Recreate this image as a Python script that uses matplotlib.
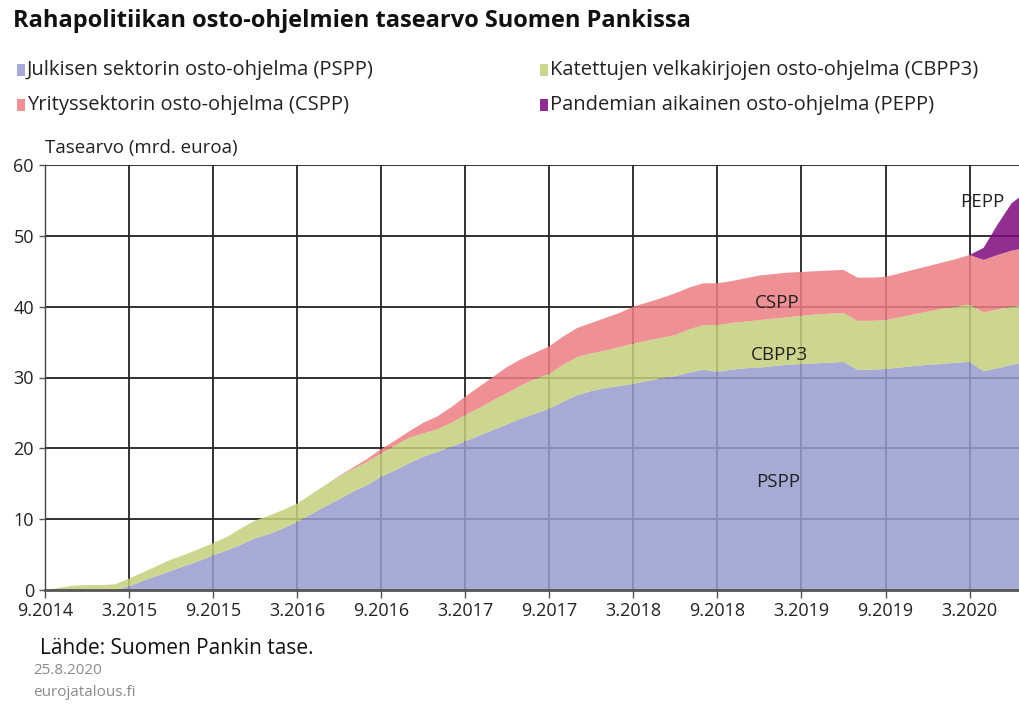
import matplotlib
matplotlib.use("Agg")
import matplotlib.pyplot as plt
from matplotlib.patches import Rectangle
import numpy as np

plt.rcParams['font.family'] = ['Open Sans', 'DejaVu Sans']

# ---- data (mrd. euroa), monthly from 9.2014 ----
pspp = [0, 0, 0, 0, 0, 0, 0.5, 1.3, 2.0, 2.7, 3.4, 4.1, 4.9, 5.6, 6.4, 7.3, 7.9, 8.7,
        9.6, 10.7, 11.8, 12.8, 13.9, 14.8, 16.0, 16.9, 17.9, 18.8, 19.5, 20.2, 21.0,
        21.8, 22.6, 23.4, 24.2, 24.9, 25.6, 26.6, 27.5, 28.1, 28.5, 28.8, 29.1, 29.5,
        29.9, 30.2, 30.7, 31.1, 30.8, 31.1, 31.3, 31.4, 31.6, 31.8, 31.9, 32.0, 32.1,
        32.2, 31.1, 31.1, 31.2, 31.4, 31.6, 31.8, 31.9, 32.1, 32.2, 30.9, 31.3, 31.8, 32.1]
green_top = [0, 0.3, 0.6, 0.7, 0.7, 0.8, 1.6, 2.5, 3.4, 4.3, 5.0, 5.8, 6.6, 7.5, 8.7, 9.8,
             10.5, 11.3, 12.2, 13.5, 14.8, 16.0, 17.1, 18.1, 19.3, 20.4, 21.5, 22.1, 22.7,
             23.6, 24.7, 25.7, 26.8, 27.8, 28.9, 29.8, 30.5, 31.8, 32.9, 33.4, 33.8, 34.3,
             34.8, 35.2, 35.6, 36.0, 36.8, 37.4, 37.4, 37.7, 37.9, 38.1, 38.3, 38.5, 38.7,
             38.9, 39.0, 39.1, 38.0, 38.0, 38.1, 38.5, 38.9, 39.3, 39.7, 40.0, 40.3, 39.2,
             39.6, 40.0, 40.2]
pink_top = green_top[:21] + [16.1, 17.3, 18.5, 19.9, 21.1, 22.4, 23.6, 24.5, 25.8, 27.3,
                             28.7, 30.1, 31.5, 32.6, 33.5, 34.4, 35.8, 37.0, 37.7, 38.4,
                             39.1, 40.0, 40.6, 41.2, 41.9, 42.7, 43.3, 43.3, 43.6, 44.0,
                             44.4, 44.6, 44.8, 44.9, 45.0, 45.1, 45.2, 44.1, 44.1, 44.2,
                             44.7, 45.2, 45.7, 46.2, 46.7, 47.3, 46.6, 47.3, 47.9, 48.3]
pepp = [0] * 66 + [0, 1.7, 4.3, 6.7, 7.8]

cbpp3 = list(np.array(green_top) - np.array(pspp))
cspp = list(np.array(pink_top) - np.array(green_top))

tick_labels = ["9.2014", "3.2015", "9.2015", "3.2016", "9.2016", "3.2017", "9.2017",
               "3.2018", "9.2018", "3.2019", "9.2019", "3.2020"]
series_names = ["Julkisen sektorin osto-ohjelma (PSPP)",
                "Katettujen velkakirjojen osto-ohjelma (CBPP3)",
                "Yrityssektorin osto-ohjelma (CSPP)",
                "Pandemian aikainen osto-ohjelma (PEPP)"]
short_names = ["PSPP", "CBPP3", "CSPP", "PEPP"]

c_pspp = "#989CCE"
c_cbpp3 = "#C4D07B"
c_cspp = "#EC7E83"
c_pepp = "#7E0C7E"

months = np.arange(len(pspp))

fig = plt.figure(figsize=(10.2, 7.04), dpi=100)
ax = fig.add_axes([45/1020, (704-590)/704, (1020-45)/1020, 425/704])

# grid below fills
for t in range(0, 67, 6):
    ax.axvline(t, color="#222222", lw=1.3, zorder=1)
for yv in range(10, 61, 10):
    ax.axhline(yv, color="#222222", lw=1.3, zorder=1)

ax.stackplot(months, pspp, cbpp3, cspp, pepp,
             colors=[c_pspp, c_cbpp3, c_cspp, c_pepp], alpha=0.86, lw=0, zorder=2)

ax.set_xlim(0, 69.6)
ax.set_ylim(0, 60)
ax.set_xticks(np.arange(0, 67, 6))
ax.set_xticklabels(tick_labels)
ax.set_yticks(np.arange(0, 61, 10))
for s in ["top", "right"]:
    ax.spines[s].set_visible(False)
ax.spines["bottom"].set_color("#555555")
ax.spines["bottom"].set_linewidth(2)
ax.spines["left"].set_color("#444444")
ax.spines["left"].set_linewidth(1.0)
ax.tick_params(axis="x", length=6, width=1, color="#555555", labelsize=13, pad=3,
               labelcolor="#222222")
ax.tick_params(axis="y", length=4, width=1, color="#555555", labelsize=13, pad=4,
               labelcolor="#222222")

# in-chart labels
txt_kw = dict(fontsize=13.5, color="#222222", ha="center", va="center", zorder=5)
ax.text(52.3, 15.3, short_names[0], **txt_kw)
ax.text(52.4, 33.2, short_names[1], **txt_kw)
ax.text(52.3, 40.5, short_names[2], **txt_kw)
ax.text(66.9, 54.8, short_names[3], **txt_kw)

# title
fig.text(13/1020, 1 - 21/704, "Rahapolitiikan osto-ohjelmien tasearvo Suomen Pankissa",
         fontsize=17, fontweight="bold", ha="left", va="center", color="#111111")

# legend (manual)
leg_items = [(17, 70, c_pspp, series_names[0]), (540, 70, c_cbpp3, series_names[1]),
             (17, 105, c_cspp, series_names[2]), (540, 105, c_pepp, series_names[3])]
for x, y, c, name in leg_items:
    fig.patches.append(Rectangle((x/1020, 1 - (y+6)/704), 8/1020, 12/704,
                                 transform=fig.transFigure, facecolor=c, alpha=0.86,
                                 edgecolor="none"))
    fig.text((x+10)/1020, 1 - y/704, name, fontsize=14.5, ha="left", va="center",
             color="#222222")

fig.text(45/1020, 1 - 148/704, "Tasearvo (mrd. euroa)", fontsize=13.5, ha="left",
         va="center", color="#222222")

fig.text(40/1020, 1 - 648/704, "Lähde: Suomen Pankin tase.", fontsize=15, ha="left",
         va="center", color="#111111")
fig.text(33/1020, 1 - 671/704, "25.8.2020", fontsize=11, ha="left", va="center",
         color="#8a8a8a")
fig.text(33/1020, 1 - 693/704, "eurojatalous.fi", fontsize=11, ha="left", va="center",
         color="#8a8a8a")

fig.savefig("out.png", dpi=100)
